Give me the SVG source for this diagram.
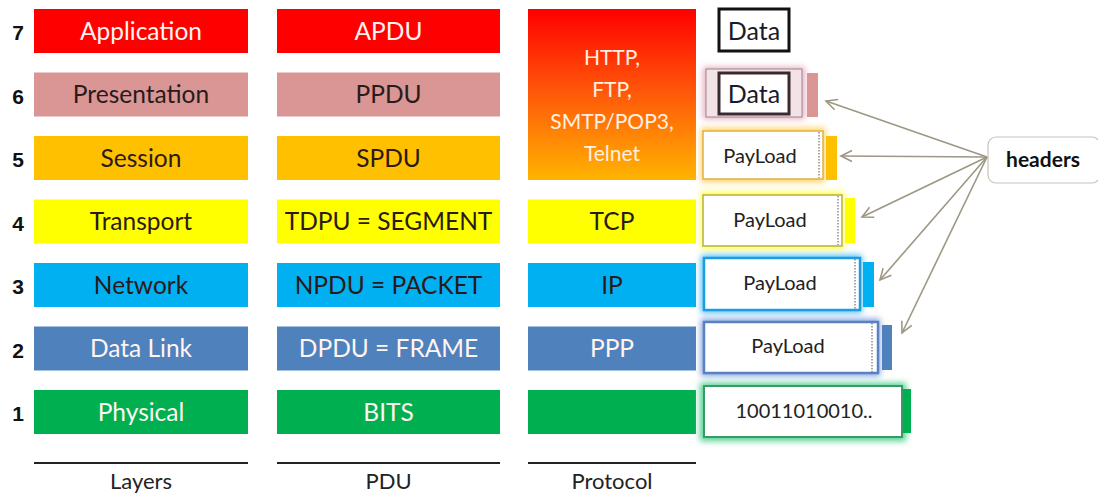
<svg xmlns="http://www.w3.org/2000/svg" width="1098" height="495" viewBox="0 0 1098 495">
<style>
.t{font-family:Lato,"Open Sans","Liberation Sans",sans-serif;font-size:24.5px;text-anchor:middle}
.w{fill:#fff4f0}
.d{fill:#2a1a1a}
.n{font-family:"Liberation Sans",Arial,sans-serif;font-weight:bold;font-size:21px;fill:#111;text-anchor:middle}
.lab{font-family:Lato,"Open Sans","Liberation Sans",sans-serif;font-size:22px;fill:#222;text-anchor:middle}
.pr{font-family:Lato,"Open Sans","Liberation Sans",sans-serif;font-size:21px;fill:#fff0e0;text-anchor:middle}
.pl{font-family:Lato,"Open Sans","Liberation Sans",sans-serif;font-size:20px;fill:#222;text-anchor:middle}
.dt{font-family:Lato,"Open Sans","Liberation Sans",sans-serif;font-size:25px;fill:#1a1a2a;text-anchor:middle}
.dot{fill:none;stroke:#555;stroke-width:1;stroke-dasharray:1.5 1.5}
.conn{stroke:#9d9783;stroke-width:1.6;fill:none;marker-end:url(#open)}
</style>
<defs>
<linearGradient id="pg" x1="0" y1="0" x2="0" y2="1">
<stop offset="0" stop-color="#ff0000"/>
<stop offset="0.5" stop-color="#ff5a0a"/>
<stop offset="1" stop-color="#ffb400"/>
</linearGradient>
<filter id="glow" x="-20%" y="-30%" width="140%" height="160%"><feGaussianBlur stdDeviation="3"/></filter>
<marker id="open" viewBox="0 0 14 14" refX="12" refY="7" markerWidth="14" markerHeight="14" markerUnits="userSpaceOnUse" orient="auto">
<path d="M1,1.5 L12,7 L1,12.5" fill="none" stroke="#9d9783" stroke-width="1.6"/>
</marker>
</defs>
<rect width="1098" height="495" fill="#fff"/>

<g id="layers">
<text class="n" x="18" y="40">7</text>
<rect x="34" y="9" width="214" height="44" fill="#ff0000"/>
<text class="t w" x="141" y="39.5">Application</text>
<text class="n" x="18" y="103.5">6</text>
<rect x="34" y="72.5" width="214" height="44" fill="#d99694"/>
<text class="t d" x="141" y="103">Presentation</text>
<text class="n" x="18" y="167">5</text>
<rect x="34" y="136" width="214" height="44" fill="#ffc000"/>
<text class="t d" x="141" y="166.5">Session</text>
<text class="n" x="18" y="230.5">4</text>
<rect x="34" y="199.5" width="214" height="44" fill="#ffff00"/>
<text class="t d" x="141" y="230">Transport</text>
<text class="n" x="18" y="294">3</text>
<rect x="34" y="263" width="214" height="44" fill="#00b0f0"/>
<text class="t d" x="141" y="293.5">Network</text>
<text class="n" x="18" y="357.5">2</text>
<rect x="34" y="326.5" width="214" height="44" fill="#4f81bd"/>
<text class="t w" x="141" y="357">Data Link</text>
<text class="n" x="18" y="421">1</text>
<rect x="34" y="390" width="214" height="44" fill="#00b050"/>
<text class="t w" x="141" y="420.5">Physical</text>
<rect x="34" y="462" width="214" height="2" fill="#222"/>
<text class="lab" x="141" y="489">Layers</text>
</g>

<g id="pdu">
<rect x="277" y="9" width="223" height="44" fill="#ff0000"/>
<text class="t w" x="388.5" y="39.5">APDU</text>
<rect x="277" y="72.5" width="223" height="44" fill="#d99694"/>
<text class="t d" x="388.5" y="103">PPDU</text>
<rect x="277" y="136" width="223" height="44" fill="#ffc000"/>
<text class="t d" x="388.5" y="166.5">SPDU</text>
<rect x="277" y="199.5" width="223" height="44" fill="#ffff00"/>
<text class="t d" x="388.5" y="230">TDPU = SEGMENT</text>
<rect x="277" y="263" width="223" height="44" fill="#00b0f0"/>
<text class="t d" x="388.5" y="293.5">NPDU = PACKET</text>
<rect x="277" y="326.5" width="223" height="44" fill="#4f81bd"/>
<text class="t w" x="388.5" y="357">DPDU = FRAME</text>
<rect x="277" y="390" width="223" height="44" fill="#00b050"/>
<text class="t w" x="388.5" y="420.5">BITS</text>
<rect x="277" y="462" width="223" height="2" fill="#222"/>
<text class="lab" x="388.5" y="489">PDU</text>
</g>

<g id="protocol">
<rect x="528" y="9" width="168" height="171" fill="url(#pg)"/>
<text class="pr" x="612" y="65">HTTP,</text>
<text class="pr" x="612" y="97">FTP,</text>
<text class="pr" x="612" y="129">SMTP/POP3,</text>
<text class="pr" x="612" y="161">Telnet</text>
<rect x="528" y="199.5" width="168" height="44" fill="#ffff00"/>
<text class="t d" x="612" y="230">TCP</text>
<rect x="528" y="263" width="168" height="44" fill="#00b0f0"/>
<text class="t d" x="612" y="293.5">IP</text>
<rect x="528" y="326.5" width="168" height="44" fill="#4f81bd"/>
<text class="t w" x="612" y="357">PPP</text>
<rect x="528" y="390" width="168" height="44" fill="#00b050"/>
<rect x="528" y="462" width="168" height="2" fill="#222"/>
<text class="lab" x="612" y="489">Protocol</text>
</g>

<g id="frame7">
<rect x="719" y="9" width="70" height="42" fill="#fff" stroke="#111" stroke-width="3"/>
<text class="dt" x="754" y="40">Data</text>
</g>

<g id="frame6">
<rect x="703" y="67" width="102" height="52" fill="#e8b0c0" filter="url(#glow)"/>
<rect x="706" y="69" width="96" height="48" fill="#f3e2e6" stroke="#9a8590" stroke-width="1"/>
<rect x="719" y="73" width="70" height="41" fill="#fff" stroke="#3a2a30" stroke-width="3"/>
<text class="dt" x="754" y="103">Data</text>
<rect x="807" y="73" width="11" height="44" fill="#d99694"/>
</g>

<g id="frame5">
<rect x="701" y="128" width="124" height="54" fill="#ffd060" filter="url(#glow)"/>
<rect x="703" y="131" width="120" height="48" fill="#fff" stroke="#e2b040" stroke-width="1.5"/>
<line x1="819" y1="132" x2="819" y2="178" class="dot"/>
<text class="pl" x="760" y="163">PayLoad</text>
<rect x="826" y="136" width="11" height="44" fill="#ffc000"/>
</g>

<g id="frame4">
<rect x="701" y="192" width="143" height="57" fill="#ffff40" filter="url(#glow)"/>
<rect x="703" y="195" width="139" height="51" fill="#fff" stroke="#b8b040" stroke-width="1.5"/>
<line x1="838" y1="196" x2="838" y2="245" class="dot"/>
<text class="pl" x="770" y="227">PayLoad</text>
<rect x="845" y="198" width="10" height="45" fill="#ffff00"/>
</g>

<g id="frame3">
<rect x="701" y="255" width="161" height="58" fill="#50c0f8" filter="url(#glow)"/>
<rect x="704" y="258" width="156" height="52" fill="#fff" stroke="#1e9ce0" stroke-width="2.5"/>
<line x1="855" y1="259" x2="855" y2="309" class="dot"/>
<text class="pl" x="780" y="290">PayLoad</text>
<rect x="863" y="262" width="11" height="45" fill="#00b0f0"/>
</g>

<g id="frame2">
<rect x="701" y="319" width="179" height="57" fill="#7fa0e0" filter="url(#glow)"/>
<rect x="704" y="322" width="174" height="51" fill="#fff" stroke="#5a82c0" stroke-width="2.5"/>
<line x1="872" y1="323" x2="872" y2="372" class="dot"/>
<text class="pl" x="788" y="353">PayLoad</text>
<rect x="882" y="325" width="10" height="45" fill="#4f81bd"/>
</g>

<g id="frame1">
<rect x="700" y="383" width="206" height="58" fill="#50d090" filter="url(#glow)"/>
<rect x="704" y="386" width="198" height="51" fill="#fff" stroke="#3a9a64" stroke-width="2"/>
<text class="pl" x="804" y="418">10011010010..</text>
<rect x="903" y="389" width="8" height="44" fill="#00b050"/>
</g>

<g id="headers">
<rect x="988" y="137" width="112" height="46" rx="8" fill="#fff" stroke="#c8c4b8" stroke-width="1.2"/>
<text x="1043" y="167" style="font-family:Lato,'Liberation Sans',sans-serif;font-weight:bold;font-size:21px;fill:#111;text-anchor:middle">headers</text>
</g>

<g id="connectors">
<line class="conn" x1="987" y1="157" x2="826" y2="101"/>
<line class="conn" x1="987" y1="157" x2="841" y2="156"/>
<line class="conn" x1="987" y1="157" x2="862" y2="217"/>
<line class="conn" x1="987" y1="157" x2="880" y2="280"/>
<line class="conn" x1="987" y1="157" x2="902" y2="333"/>
</g>
</svg>
